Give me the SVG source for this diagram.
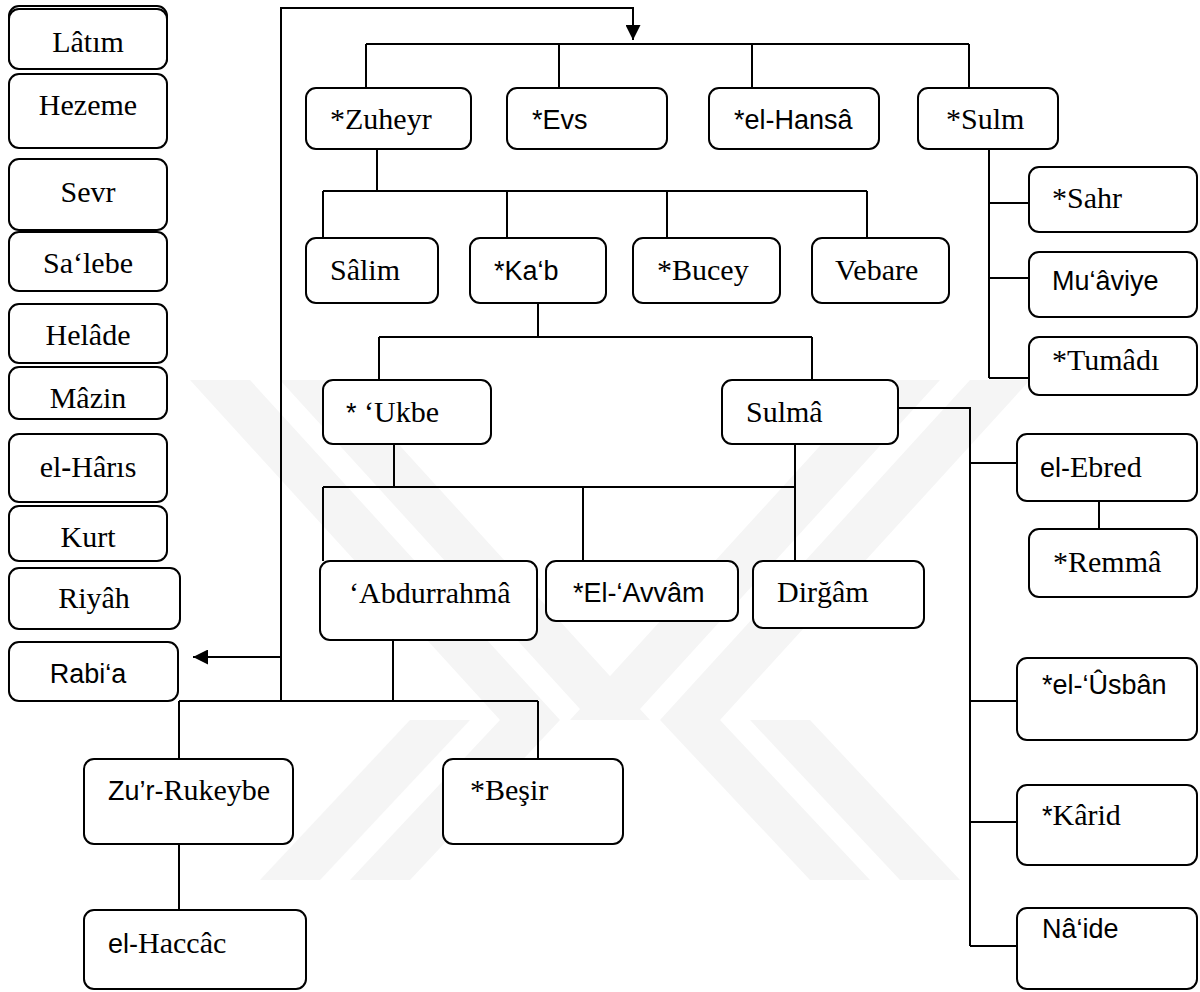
<svg xmlns="http://www.w3.org/2000/svg" width="1200" height="992" viewBox="0 0 1200 992">
<style>
.box{fill:#fff;stroke:#000;stroke-width:2}
.ln{fill:none;stroke:#000;stroke-width:2}
.t{font-family:"Liberation Serif","Times New Roman",serif;font-size:30px;fill:#000}
.s{font-family:"Liberation Sans",Arial,sans-serif;font-size:27px}
.c{text-anchor:middle}
.wm{fill:#f5f5f5}
</style>
<defs>
<marker id="arr" viewBox="0 0 10 10" refX="10" refY="5" markerWidth="7.5" markerHeight="7.5" orient="auto" markerUnits="strokeWidth">
<path d="M0,0 L10,5 L0,10 Z" fill="#000"/>
</marker>
</defs>
<rect width="1200" height="992" fill="#fff"/>
<g id="watermark">
<polygon class="wm" points="190,380 250,380 560,720 500,720"/>
<polygon class="wm" points="280,380 340,380 650,720 590,720"/>
<polygon class="wm" points="880,380 940,380 630,720 570,720"/>
<polygon class="wm" points="970,380 1030,380 720,720 660,720"/>
<polygon class="wm" points="500,720 560,720 410,880 350,880"/>
<polygon class="wm" points="410,720 470,720 320,880 260,880"/>
<polygon class="wm" points="660,720 720,720 870,880 810,880"/>
<polygon class="wm" points="750,720 810,720 960,880 900,880"/>
</g>
<g id="connectors">
<path class="ln" d="M281,701 V8 H633 V40" marker-end="url(#arr)"/>
<path class="ln" d="M281,657 H193" marker-end="url(#arr)"/>
<path class="ln" d="M366,44 H969 M366,44 V88 M559,44 V88 M752,44 V88 M969,44 V88"/>
<path class="ln" d="M377,149 V191 M323,191 H867 M323,191 V238 M507,191 V238 M667,191 V238 M867,191 V238"/>
<path class="ln" d="M989,149 V378 M989,203 H1029 M989,278 H1029 M989,378 H1029"/>
<path class="ln" d="M538,303 V337 M379,337 H812 M379,337 V380 M812,337 V380"/>
<path class="ln" d="M394,444 V487 M323,487 H795 M323,487 V561 M583,487 V561 M795,444 V561"/>
<path class="ln" d="M898,408 H970 V946 M970,463 H1017 M970,701 H1017 M970,822 H1017 M970,946 H1017"/>
<path class="ln" d="M1099,501 V529"/>
<path class="ln" d="M393,640 V701 M179,701 H538 M179,701 V759 M538,701 V759 M179,844 V910"/>
</g>
<g id="n-latim"><rect class="box" x="9" y="6" width="158" height="62" rx="10"/><rect class="box" x="9" y="9" width="158" height="60" rx="10"/><text class="t c" x="88" y="52">Lâtım</text></g>
<g id="n-hezeme"><rect class="box" x="9" y="74" width="158" height="74" rx="10"/><text class="t c" x="88" y="115">Hezeme</text></g>
<g id="n-sevr"><rect class="box" x="9" y="159" width="158" height="71" rx="10"/><text class="t c" x="88" y="202">Sevr</text></g>
<g id="n-salebe"><rect class="box" x="9" y="232" width="158" height="59" rx="10"/><text class="t c" x="88" y="273">Sa‘lebe</text></g>
<g id="n-helade"><rect class="box" x="9" y="304" width="158" height="59" rx="10"/><text class="t c" x="88" y="345">Helâde</text></g>
<g id="n-mazin"><rect class="box" x="9" y="367" width="158" height="52" rx="10"/><text class="t c" x="88" y="408">Mâzin</text></g>
<g id="n-haris"><rect class="box" x="9" y="434" width="158" height="68" rx="10"/><text class="t c" x="88" y="477">el<tspan font-weight="bold">-</tspan>Hârıs</text></g>
<g id="n-kurt"><rect class="box" x="9" y="506" width="158" height="55" rx="10"/><text class="t c" x="88" y="547">Kurt</text></g>
<g id="n-riyah"><rect class="box" x="9" y="568" width="171" height="61" rx="10"/><text class="t c" x="94" y="608">Riyâh</text></g>
<g id="n-rabia"><rect class="box" x="9" y="642" width="169" height="59" rx="10"/><text class="t s c" x="88" y="683" font-size="29">Rabi‘a</text></g>

<g id="n-zuheyr"><rect class="box" x="306" y="88" width="165" height="61" rx="10"/><text class="t" x="330" y="129">*Zuheyr</text></g>
<g id="n-evs"><rect class="box" x="507" y="88" width="160" height="61" rx="10"/><text class="t s" x="532" y="129" font-size="25">*Evs</text></g>
<g id="n-hansa"><rect class="box" x="709" y="88" width="170" height="61" rx="10"/><text class="t s" x="734" y="129">*el-Hansâ</text></g>
<g id="n-sulm"><rect class="box" x="918" y="88" width="140" height="61" rx="10"/><text class="t" x="946" y="129">*Sulm</text></g>

<g id="n-salim"><rect class="box" x="306" y="238" width="132" height="65" rx="10"/><text class="t" x="330" y="280">Sâlim</text></g>
<g id="n-kab"><rect class="box" x="470" y="238" width="136" height="65" rx="10"/><text class="t s" x="494" y="280" font-size="29">*Ka‘b</text></g>
<g id="n-bucey"><rect class="box" x="633" y="238" width="147" height="65" rx="10"/><text class="t" x="657" y="280">*Bucey</text></g>
<g id="n-vebare"><rect class="box" x="812" y="238" width="137" height="65" rx="10"/><text class="t" x="835" y="280">Vebare</text></g>

<g id="n-sahr"><rect class="box" x="1029" y="167" width="168" height="65" rx="10"/><text class="t" x="1052" y="208">*Sahr</text></g>
<g id="n-muaviye"><rect class="box" x="1029" y="252" width="168" height="65" rx="10"/><text class="t s" x="1052" y="290" font-size="28">Mu‘âviye</text></g>
<g id="n-tumadi"><rect class="box" x="1029" y="337" width="168" height="58" rx="10"/><text class="t" x="1052" y="370">*Tumâdı</text></g>

<g id="n-ukbe"><rect class="box" x="323" y="380" width="168" height="64" rx="10"/><text class="t" x="346" y="422"><tspan class="s">*</tspan> ‘Ukbe</text></g>
<g id="n-sulma"><rect class="box" x="722" y="380" width="176" height="64" rx="10"/><text class="t" x="746" y="422">Sulmâ</text></g>

<g id="n-abdurrahma"><rect class="box" x="320" y="561" width="217" height="79" rx="10"/><text class="t" x="349" y="603">‘Abdurrahmâ</text></g>
<g id="n-avvam"><rect class="box" x="546" y="561" width="192" height="60" rx="10"/><text class="t s" x="573" y="602">*El-‘Avvâm</text></g>
<g id="n-dirgam"><rect class="box" x="753" y="561" width="171" height="67" rx="10"/><text class="t" x="777" y="602">Dirğâm</text></g>

<g id="n-ebred"><rect class="box" x="1017" y="434" width="180" height="67" rx="10"/><text class="t" x="1040" y="477"><tspan class="s">el-</tspan>Ebred</text></g>
<g id="n-remma"><rect class="box" x="1029" y="529" width="168" height="68" rx="10"/><text class="t" x="1053" y="572">*Remmâ</text></g>
<g id="n-usban"><rect class="box" x="1017" y="658" width="180" height="82" rx="10"/><text class="t s" x="1042" y="694" font-size="28">*el-‘Ûsbân</text></g>
<g id="n-karid"><rect class="box" x="1017" y="785" width="180" height="80" rx="10"/><text class="t" x="1042" y="825"><tspan class="s">*</tspan>Kârid</text></g>
<g id="n-naide"><rect class="box" x="1017" y="908" width="180" height="81" rx="10"/><text class="t s" x="1042" y="938">Nâ‘ide</text></g>

<g id="n-zurrukeybe"><rect class="box" x="84" y="759" width="209" height="85" rx="10"/><text class="t" x="108" y="800"><tspan class="s">Zu’r-</tspan>Rukeybe</text></g>
<g id="n-besir"><rect class="box" x="443" y="759" width="180" height="85" rx="10"/><text class="t" x="470" y="800">*Beşir</text></g>
<g id="n-haccac"><rect class="box" x="84" y="910" width="222" height="79" rx="10"/><text class="t" x="108" y="953"><tspan class="s">el-</tspan>Haccâc</text></g>
</svg>
